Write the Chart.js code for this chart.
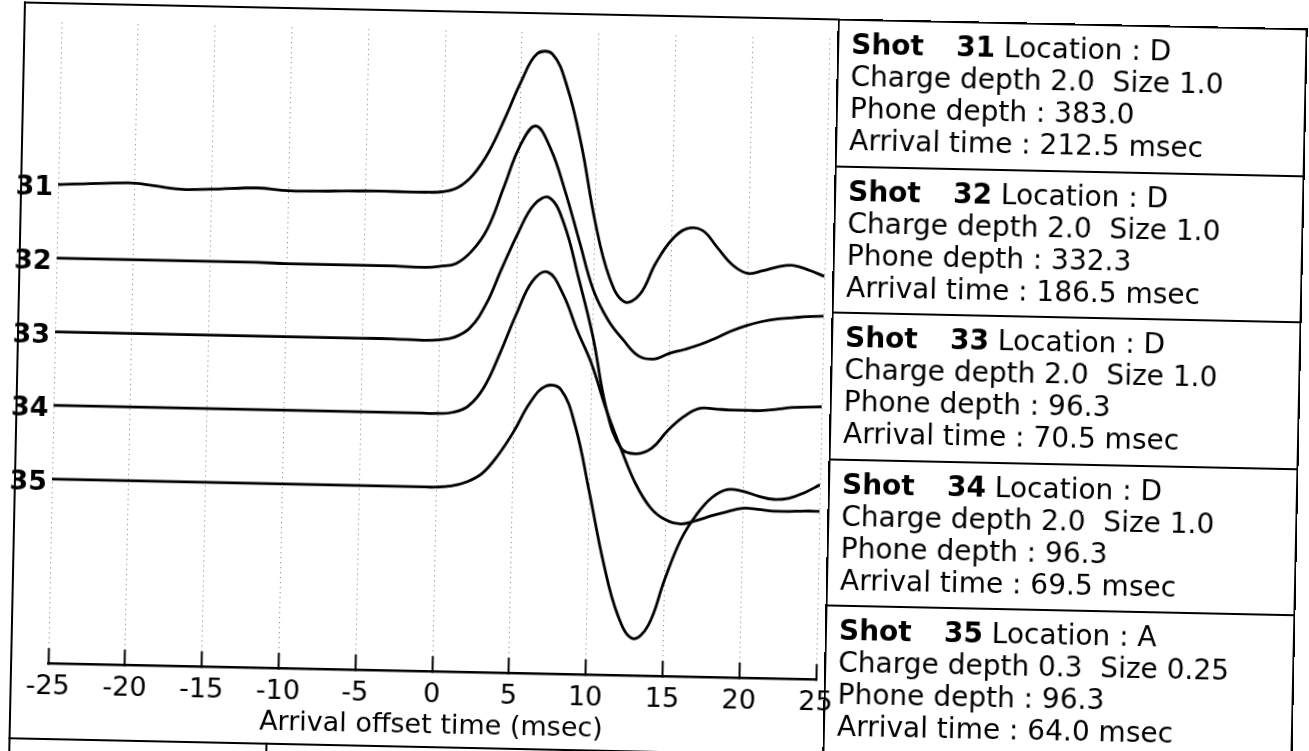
<!DOCTYPE html>
<html>
<head>
<meta charset="utf-8">
<title>Shot traces</title>
<script src="https://cdn.jsdelivr.net/npm/chart.js@4.4.1/dist/chart.umd.min.js"></script>
<style>
  html, body { margin: 0; padding: 0; background: #fff; overflow: hidden; }
  /* the scanned sheet is a little tilted, so the whole page is turned to match */
  #sheet { position: absolute; left: 0; top: 0; width: 1309px; height: 751px;
           transform: rotate(1.2deg); transform-origin: 0 0; }
  #traceChart { position: absolute; left: 0; top: 0; }
  .rule { position: absolute; background: #000; }
  #info { position: absolute; left: 838px; top: 1px; width: 470px; height: 800px;
          border-left: 2px solid #000; border-right: 2px solid #000; box-sizing: border-box; }
  .box { height: 146.5px; box-sizing: border-box; border-top: 2px solid #000;
         padding: 8px 0 0 12px; font-family: "DejaVu Sans", sans-serif; font-size: 28px;
         line-height: 32px; color: #000; white-space: nowrap; }
  .box b.shot { display: inline-block; width: 105px; }
</style>
</head>
<body>
<div id="sheet">
  <canvas id="traceChart" width="880" height="751"></canvas>
  <div class="rule" style="left:24px; top:1px; width:2px; height:770px;"></div>
  <div class="rule" style="left:24px; top:1px; width:816px; height:2px;"></div>
  <div class="rule" style="left:24px; top:737px; width:712px; height:2px;"></div>
  <div class="rule" style="left:281px; top:737px; width:2px; height:30px;"></div>
  <div id="info"></div>
</div>
<script>
const shots = [31, 32, 33, 34, 35];
const timeMs = [-25, -22, -20, -17, -15, -12, -10, -7, -5, -3, -1,
  0, 1, 2, 3, 4, 5, 6, 7, 8, 9, 10, 11, 12, 13, 14, 15, 16, 17, 18, 19, 20, 21, 22, 23, 24, 25];
const xTicks = [-25, -20, -15, -10, -5, 0, 5, 10, 15, 20, 25];

// trace amplitude, in trace spacings, positive = up
const amp31 = [0, 0.03, 0.04, -0.03, -0.02, 0.01, -0.02, -0.01, 0, 0, 0,
  0.01, 0.07, 0.25, 0.57, 1.03, 1.53, 1.91, 1.91, 1.47, 0.69, -0.35, -1.10, -1.43, -1.33, -0.90,
  -0.58, -0.42, -0.44, -0.67, -0.90, -1.01, -0.97, -0.91, -0.89, -0.95, -1.03];
const amp32 = [0, 0, 0, 0, 0, 0, -0.01, -0.01, -0.01, -0.01, -0.02,
  0, 0.04, 0.21, 0.52, 1.08, 1.65, 1.93, 1.63, 1.06, 0.38, -0.29, -0.69, -0.95, -1.16, -1.20,
  -1.12, -1.06, -0.99, -0.90, -0.80, -0.72, -0.66, -0.62, -0.60, -0.58, -0.57];
const amp33 = [0, 0, 0, 0, 0, 0, 0, 0, 0, 0, -0.01,
  0, 0.04, 0.17, 0.49, 0.99, 1.47, 1.86, 1.96, 1.60, 0.88, 0.10, -0.90, -1.42, -1.49, -1.41,
  -1.17, -0.98, -0.86, -0.86, -0.87, -0.87, -0.87, -0.85, -0.82, -0.81, -0.80];
const amp34 = [0, 0, 0, 0, 0, 0, 0, 0, 0, 0, 0,
  0, 0.02, 0.11, 0.37, 0.84, 1.37, 1.82, 1.95, 1.66, 1.16, 0.70, 0.09, -0.43, -0.90, -1.22,
  -1.38, -1.43, -1.38, -1.31, -1.25, -1.20, -1.21, -1.23, -1.23, -1.22, -1.22];
const amp35 = [0, 0, 0, 0, 0, 0, 0, 0, 0, 0, 0,
  0, 0.02, 0.08, 0.20, 0.45, 0.78, 1.17, 1.40, 1.36, 0.86, -0.03, -0.97, -1.68, -2.00, -1.82,
  -1.20, -0.65, -0.30, -0.06, 0.05, 0.03, -0.03, -0.07, -0.05, 0.03, 0.14];

const locations = ['D', 'D', 'D', 'D', 'A'];
const chargeDepth = ['2.0', '2.0', '2.0', '2.0', '0.3'];
const chargeSize = ['1.0', '1.0', '1.0', '1.0', '0.25'];
const phoneDepth = ['383.0', '332.3', '96.3', '96.3', '96.3'];
const arrivalTime = ['212.5', '186.5', '70.5', '69.5', '64.0'];

const amps = [amp31, amp32, amp33, amp34, amp35];
const axisFont = { family: 'DejaVu Sans', size: 27 };

const ctx = document.getElementById('traceChart');
new Chart(ctx, {
  type: 'line',
  data: {
    datasets: shots.map((shot, i) => ({
      label: 'Shot ' + shot,
      data: timeMs.map((t, j) => ({ x: t, y: shot - amps[i][j] })),
      borderColor: '#000',
      borderWidth: 2.8,
      pointRadius: 0,
      tension: 0.4,
      fill: false
    }))
  },
  options: {
    responsive: false,
    animation: false,
    layout: { padding: { top: 20, right: 50, left: 0, bottom: 0 } },
    plugins: { legend: { display: false }, tooltip: { enabled: false } },
    scales: {
      x: {
        type: 'linear',
        min: -25,
        max: 25,
        afterBuildTicks: axis => { axis.ticks = xTicks.map(v => ({ value: v })); },
        afterFit: axis => { axis.height = 89; },
        ticks: { color: '#000', font: axisFont, padding: 23, maxRotation: 0, autoSkip: false },
        grid: { color: 'rgba(0,0,0,0.55)', lineWidth: 1, drawTicks: true, tickLength: -15,
                tickColor: '#000', tickWidth: 2, tickBorderDash: [] },
        border: { display: true, color: '#000', width: 2.5, dash: [1, 4] },
        title: { display: true, text: 'Arrival offset time (msec)', color: '#000',
                 font: axisFont, padding: { top: 0, bottom: 18 } }
      },
      y: {
        type: 'linear',
        reverse: true,
        min: 28.8,
        max: 37.5,
        afterBuildTicks: axis => { axis.ticks = shots.map(v => ({ value: v })); },
        afterFit: axis => { axis.width = 62; },
        ticks: { color: '#000', font: { family: 'DejaVu Sans', size: 27, weight: 'bold' },
                 padding: 5, labelOffset: 4 },
        grid: { display: false, drawTicks: false },
        border: { display: false }
      }
    }
  }
});

// shot info boxes on the right
const info = document.getElementById('info');
shots.forEach((shot, i) => {
  const box = document.createElement('div');
  box.className = 'box';
  box.innerHTML = '<b class="shot">Shot</b><b>' + shot + '</b> Location : ' + locations[i] + '<br>' +
    'Charge depth ' + chargeDepth[i] + '&nbsp; Size ' + chargeSize[i] + '<br>' +
    'Phone depth : ' + phoneDepth[i] + '<br>' +
    'Arrival time : ' + arrivalTime[i] + ' msec';
  info.appendChild(box);
});
</script>
</body>
</html>
